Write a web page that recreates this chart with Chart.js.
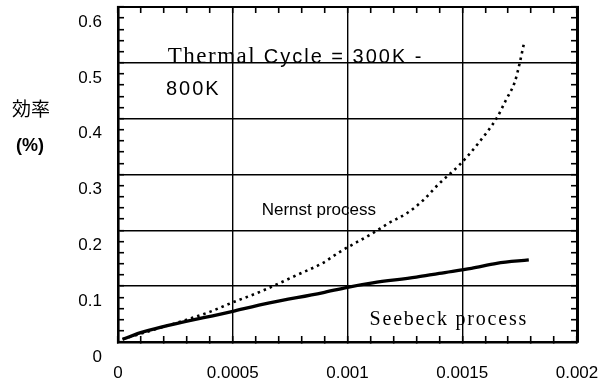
<!DOCTYPE html>
<html><head><meta charset="utf-8">
<script src="https://cdn.jsdelivr.net/npm/chart.js@4"></script>
<style>html,body{margin:0;padding:0;background:#fff}#wrap{width:610px;height:386px;position:relative}</style>
</head><body><div id="wrap"><canvas id="c"></canvas></div>
<script>
// Nernst process (dotted)
const nernstX = [0.00002, 0.00018, 0.0003, 0.0004, 0.0005, 0.00062, 0.00078, 0.00089, 0.000965, 0.00111, 0.00118, 0.00126, 0.00133, 0.0014, 0.00149, 0.00157, 0.00165, 0.00169, 0.00173, 0.00175, 0.00177];
const nernstY = [0.005, 0.025, 0.040, 0.054, 0.071, 0.090, 0.120, 0.141, 0.161, 0.195, 0.213, 0.231, 0.254, 0.284, 0.318, 0.356, 0.401, 0.433, 0.467, 0.499, 0.537];
// Seebeck process (solid)
const seebeckX = [0.00002, 0.00011, 0.0005, 0.00066, 0.00089, 0.001, 0.00111, 0.0013, 0.0014, 0.00154, 0.00165, 0.00179];
const seebeckY = [0.005, 0.018, 0.055, 0.070, 0.088, 0.098, 0.106, 0.116, 0.123, 0.132, 0.141, 0.147];
// tick labels
const xTickLabels = ['0', '0.0005', '0.001', '0.0015', '0.002'];
const yTickLabels = ['0', '0.1', '0.2', '0.3', '0.4', '0.5', '0.6'];
const xMinorPerMajor = 5, yMinorPerMajor = 5;
const xMax = 0.002, yMax = 0.6;

const xMinorTicks = [];
for (let i = 0; i <= (xTickLabels.length - 1) * xMinorPerMajor; i++) xMinorTicks.push(i * xMax / ((xTickLabels.length - 1) * xMinorPerMajor));
const yMinorTicks = [];
for (let i = 0; i <= (yTickLabels.length - 1) * yMinorPerMajor; i++) yMinorTicks.push(i * yMax / ((yTickLabels.length - 1) * yMinorPerMajor));

const toPts = (xs, ys) => xs.map((v, i) => ({x: v, y: ys[i]}));

const majorColor = (per) => (ctx) => (ctx.index % per === 0 ? '#000' : 'rgba(0,0,0,0)');

function axis(pos, isX, showLabels, borderWidth) {
  const per = isX ? xMinorPerMajor : yMinorPerMajor;
  const labels = isX ? xTickLabels : yTickLabels;
  const o = {
    type: 'linear',
    position: pos,
    min: 0,
    max: isX ? xMax : yMax,
    afterBuildTicks: (s) => { s.ticks = (isX ? xMinorTicks : yMinorTicks).map(v => ({value: v})); },
    grid: {
      display: true,
      drawOnChartArea: showLabels,
      color: majorColor(per),
      lineWidth: 1.4,
      drawTicks: true,
      tickLength: -6,
      tickColor: '#000',
      tickWidth: 1.6
    },
    border: {display: true, color: '#000', width: borderWidth},
    ticks: {
      display: showLabels,
      autoSkip: false,
      maxRotation: 0,
      color: '#000',
      font: {family: '"Liberation Sans", Arial, sans-serif', size: 17},
      callback: (v, i) => (i % per === 0 ? labels[i / per] : '')
    }
  };
  if (isX) {
    o.ticks.padding = 27;
    o.afterFit = (s) => { s.height = showLabels ? 44 : 0; s.paddingLeft = 0; s.paddingRight = 0; };
  } else {
    o.ticks.padding = 22;
    o.ticks.labelOffset = 15;
    o.afterFit = (s) => { s.width = showLabels ? 118 : 0; s.paddingTop = 0; s.paddingBottom = 0; };
  }
  return o;
}

const annot = {
  id: 'annot',
  afterDraw(chart) {
    const {ctx} = chart;
    const x = chart.scales.x, y = chart.scales.y;
    ctx.save();
    ctx.fillStyle = '#000';
    ctx.textBaseline = 'alphabetic';
    ctx.textAlign = 'left';
    // Thermal cycle text
    let px = x.getPixelForValue(0.000217), py = y.getPixelForValue(0.5);
    ctx.font = '23px "Liberation Serif", serif';
    ctx.letterSpacing = '1.5px';
    ctx.fillText('Thermal', px, py);
    const w1 = ctx.measureText('Thermal').width;
    ctx.font = '20px "Liberation Sans", Arial, sans-serif';
    ctx.letterSpacing = '2px';
    ctx.fillText(' Cycle = 300K -', px + w1, py);
    ctx.fillText('800K', x.getPixelForValue(0.000209), y.getPixelForValue(0.442));
    // Nernst
    ctx.letterSpacing = '0px';
    ctx.font = '17px "Liberation Sans", Arial, sans-serif';
    ctx.fillText('Nernst process', x.getPixelForValue(0.000626), y.getPixelForValue(0.227));
    // Seebeck
    ctx.font = '20px "Liberation Serif", serif';
    ctx.letterSpacing = '1.8px';
    ctx.fillText('Seebeck process', x.getPixelForValue(0.001096), y.getPixelForValue(0.0304));
    // y title
    ctx.letterSpacing = '0px';
    ctx.textAlign = 'center';
    const cx = chart.chartArea.left - 87;
    ctx.font = '19px "Noto Sans CJK JP", sans-serif';
    ctx.fillText('効率', cx, y.getPixelForValue(0.404));
    ctx.font = 'bold 18px "Liberation Sans", Arial, sans-serif';
    ctx.fillText('(%)', cx - 1, y.getPixelForValue(0.342));
    ctx.restore();
  }
};

new Chart(document.getElementById('c'), {
  type: 'line',
  data: {
    datasets: [
      {
        label: 'Nernst process',
        data: toPts(nernstX, nernstY),
        borderColor: '#000',
        borderWidth: 2.6,
        borderDash: [2.5, 4],
        pointRadius: 0,
        cubicInterpolationMode: 'monotone',
        fill: false
      },
      {
        label: 'Seebeck process',
        data: toPts(seebeckX, seebeckY),
        borderColor: '#000',
        borderWidth: 3.3,
        pointRadius: 0,
        cubicInterpolationMode: 'monotone',
        fill: false
      }
    ]
  },
  options: {
    responsive: true,
    maintainAspectRatio: false,
    animation: false,
    layout: {padding: {top: 7, right: 33, left: 0, bottom: 0}},
    plugins: {legend: {display: false}, tooltip: {enabled: false}, title: {display: false}},
    scales: {
      x: axis('bottom', true, true, 2.6),
      y: axis('left', false, true, 2.6),
      xTop: axis('top', true, false, 2),
      yRight: axis('right', false, false, 3)
    }
  },
  plugins: [annot]
});
</script>
</body></html>
